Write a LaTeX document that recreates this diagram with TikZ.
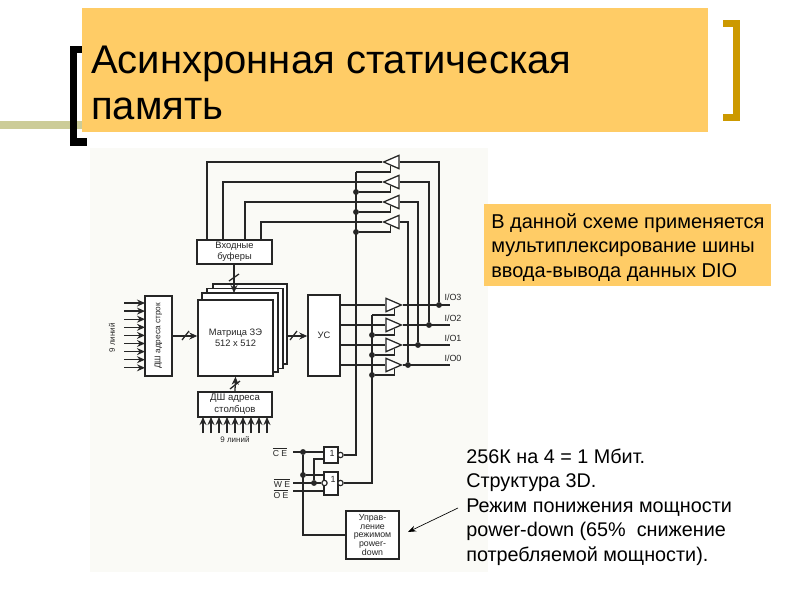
\documentclass[tikz,border=0pt]{standalone}
\usepackage{fontspec}
\setmainfont{Liberation Sans}
\usetikzlibrary{arrows.meta,shapes.geometric}
\definecolor{ink}{HTML}{262626}
\definecolor{orangefill}{HTML}{FFCC66}
\definecolor{olivebar}{HTML}{CCCC99}
\definecolor{goldbr}{HTML}{CC9900}
\definecolor{scan}{HTML}{FAFAF6}
\tikzset{
 dbox/.style={draw=ink,line width=1.05pt,fill=white,inner sep=0pt,align=center,font=\fontsize{7}{8.6}\selectfont,text=ink},
 wire/.style={draw=ink,line width=.95pt},
 arr/.style={wire,-{Stealth[length=6pt,width=5.2pt]}},
 dotn/.style={circle,fill=ink,inner sep=0pt,minimum size=4.4pt},
 bub/.style={circle,draw=ink,line width=.85pt,fill=white,inner sep=0pt,minimum size=4pt},
 tri/.style={isosceles triangle,isosceles triangle stretches,draw=ink,line width=.95pt,fill=white,inner sep=0pt,minimum height=11.5pt,minimum width=10pt},
 lab/.style={inner sep=0pt,font=\fontsize{6.7}{8}\selectfont,text=ink},
 note/.style={inner sep=0pt,anchor=north west,align=left,font=\fontsize{15}{18.6}\selectfont,text=black},
}
\begin{document}
\begin{tikzpicture}[x=.75pt,y=-.75pt]
\useasboundingbox (0,0) rectangle (800,600);
\fill[white] (0,0) rectangle (800,600);
% slide decoration
\fill[olivebar] (0,121) rectangle (84,129);
\fill[black] (70,46) rectangle (77,146);
\fill[black] (70,46) rectangle (84,53);
\fill[black] (70,138) rectangle (87,146);
\fill[goldbr] (733,20) rectangle (740,121);
\fill[goldbr] (723,20) rectangle (740,27);
\fill[goldbr] (723,114) rectangle (740,121);
\node[fill=orangefill,minimum width=469.5pt,minimum height=93pt,inner sep=0pt] (titlebox) at (395,70) {};
\node[inner sep=0pt,anchor=west,align=left,font=\fontsize{30}{34.5}\selectfont,text=black] (title) at (91,83) {Асинхронная статическая\\память};
% scan background
\fill[scan] (90,148) rectangle (488,572);
% coordinates
\foreach \i/\y in {0/162,1/182,2/202,3/222}{
  \node[tri,shape border rotate=180,anchor=apex] (tu\i) at (382,\y) {};
}
\foreach \i/\y in {0/305,1/325,2/345,3/365}{
  \node[tri,anchor=apex] (td\i) at (403,\y) {};
}
% input buffers
\node[dbox,minimum width=56.25pt,minimum height=18pt] (inbuf) at (234.5,252) {Входные\\буферы};
\foreach \i/\x in {0/207,1/223,2/245,3/261}{
  \coordinate (bt\i) at (\x,240);
  \draw[wire] (bt\i) |- (tu\i.apex);
}
% right vertical buses
\foreach \i/\x/\y in {0/439/305,1/429/325,2/418/345,3/408/365}{
  \node[dotn] (bd\i) at (\x,\y) {};
  \draw[wire] (tu\i.lower side) -| (bd\i);
}
% output lines
\foreach \i/\y in {0/305,1/325,2/345,3/365}{
  \coordinate (io\i) at (450,\y);
  \draw[wire] (td\i.apex) -- (io\i);
}
\node[lab] (l3) at (453,297) {I/O3};
\node[lab] (l2) at (453,318) {I/O2};
\node[lab] (l1) at (453,338) {I/O1};
\node[lab] (l0) at (453,358) {I/O0};
% memory matrix stack
\node[dbox,minimum width=55.5pt,minimum height=60pt] (m3) at (250,324) {};
\node[dbox,minimum width=57pt,minimum height=60pt] (m2) at (245,328.5) {};
\node[dbox,minimum width=57pt,minimum height=59.25pt] (m1) at (240,332.5) {};
\node[dbox,minimum width=56.25pt,minimum height=57pt] (mat) at (235.5,338) {Матрица ЗЭ\\512 x 512};
% US
\node[dbox,minimum width=24pt,minimum height=60.75pt] (us) at (324,335.5) {УС};
% row decoder
\node[dbox,font=\fontsize{6.2}{8}\selectfont,minimum width=20.25pt,minimum height=60pt] (rowdec) at (158.5,336) {\rotatebox{90}{ДШ адреса строк}};
\foreach \i in {0,...,8}{
  \coordinate (ri\i) at (124,{303+\i*8.1});
  \coordinate (re\i) at (145,{303+\i*8.1});
  \draw[arr] (ri\i) -- (re\i);
}
\node[lab,font=\fontsize{6}{8}\selectfont,rotate=90] (l9a) at (112,338) {9 линий};
% column decoder
\node[dbox,font=\fontsize{7.2}{9}\selectfont,minimum width=55.5pt,minimum height=18.75pt] (coldec) at (235,404.5) {ДШ адреса\\столбцов};
\foreach \i in {0,...,8}{
  \coordinate (ci\i) at ({203+\i*8},433);
  \coordinate (ce\i) at ({203+\i*8},417);
  \draw[arr] (ci\i) -- (ce\i);
}
\node[lab,font=\fontsize{6}{8}\selectfont] (l9b) at (235,440) {9 линий};
% buses between blocks
\coordinate (bufin) at (234,293);
\draw[arr] (inbuf.south -| bufin) -- (bufin);
\draw[wire] (229,281) -- (239,274);
\draw[arr] (rowdec.east |- 0,336) -- (mat.west |- 0,336);
\draw[wire] (182,340) -- (189,331);
\draw[arr] (m3.east |- 0,336) -- (us.west |- 0,336);
\draw[wire] (290,340) -- (297,331);
\draw[arr] (coldec.north) -- (mat.south);
\draw[wire] (230,389) -- (240,381);
% upper enable line
\coordinate (eu0) at (356,172);
\node[dotn] (eu1) at (356,192) {};
\node[dotn] (eu2) at (356,212) {};
\node[dotn] (eu3) at (356,232) {};
\foreach \i in {1,2,3}{\draw[wire] (eu\i) -| (tu\i.left side);}
\draw[wire] (eu0) -| (tu0.left side);
% lower enable line
\coordinate (ed0) at (372,315);
\node[dotn] (ed1) at (372,335) {};
\node[dotn] (ed2) at (372,355) {};
\node[dotn] (ed3) at (372,375) {};
\foreach \i in {1,2,3}{\draw[wire] (ed\i) -| (td\i.right side);}
\draw[wire] (ed0) -| (td0.right side);
% sense amp outputs to drivers
\foreach \i/\y in {0/305,1/325,2/345,3/365}{
  \draw[wire] (us.east |- 0,\y) -- (td\i.lower side);
}
% gates
\node[dbox,anchor=center,minimum width=10.5pt,minimum height=12pt] (g1) at (331,455) {};
\node[lab] (g1t) at (332,453) {1};
\node[dbox,minimum width=10.5pt,minimum height=17.25pt] (g2) at (331,483.5) {};
\node[lab] (g2t) at (333,479) {1};
\node[bub] (o1) at (340.5,455) {};
\node[bub] (o2) at (340.5,483) {};
\node[bub] (i2) at (324.5,483) {};
\draw[wire] (o1) -| (eu0);
\draw[wire] (o2) -| (ed0);
\node[lab,font=\fontsize{6.5}{8}\selectfont] (ce) at (280,452) {$\overline{\hbox{C E}}$};
\node[lab,font=\fontsize{6.5}{8}\selectfont] (we) at (282,483) {$\overline{\hbox{W E}}$};
\node[lab,font=\fontsize{6.5}{8}\selectfont] (oe) at (281,494) {$\overline{\hbox{O E}}$};
\coordinate (ces) at (293,452);
\coordinate (wes) at (293,483);
\coordinate (oes) at (293,491);
\node[dotn] (d1) at (303,452) {};
\node[dotn] (d2) at (303,475) {};
\node[dotn] (d3) at (314,483) {};
\draw[wire] (ces) -- (g1.west |- ces);
\draw[wire] (wes) -- (i2);
\draw[wire] (oes) -- (g2.west |- oes);
\draw[wire] (d2) -- (g2.west |- d2);
\draw[wire] (d3) |- (g1.west |- 0,459);
% power-down
\node[dbox,font=\fontsize{6.6}{6.6}\selectfont,minimum width=39.75pt,minimum height=36pt] (pd) at (372.5,535) {Управ-\\ление\\режимом\\power-\\down};
\draw[wire] (d1) |- (pd.west);
\coordinate (arrs) at (458,508);
\coordinate (arre) at (408,532);
\draw[draw=black,line width=.5pt,-{Stealth[length=6pt,width=4.5pt]}] (arrs) -- (arre);
% notes
\node[fill=orangefill,minimum width=215.25pt,minimum height=61.5pt,inner sep=0pt,anchor=north west] (nbox) at (484,204) {};
\node[note] (n1) at (491,213) {В данной схеме применяется\\мультиплексирование шины\\ввода-вывода данных DIO};
\node[note,font=\fontsize{14.85}{18.35}\selectfont] (n2) at (466,448.5) {256К на 4 = 1 Мбит.\\Структура 3D.\\Режим понижения мощности\\power-down (65\%\ \ снижение\\потребляемой мощности).};
\end{tikzpicture}
\end{document}
